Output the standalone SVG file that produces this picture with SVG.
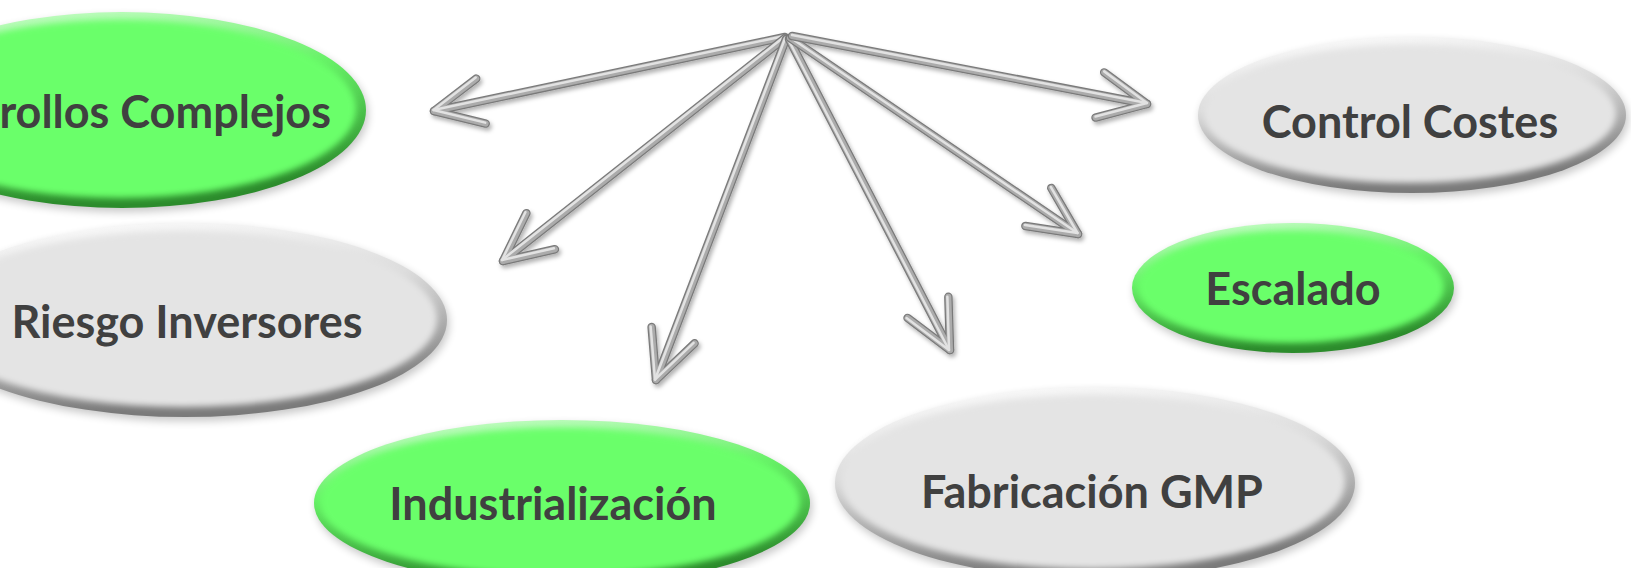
<svg xmlns="http://www.w3.org/2000/svg" width="1631" height="568" viewBox="0 0 1631 568">
<style>
  .lbl { font-family: Lato, "Open Sans", "Liberation Sans", sans-serif; font-weight: 700; font-size: 45px; fill: #404040; }
  .shadow { fill: #000; opacity: 0.22; filter: url(#blur4); }
  .rim-gray { fill: url(#gRimGray); }
  .rim-green { fill: url(#gRimGreen); }
  .in-gray { fill: #e4e4e4; filter: url(#blur3); }
  .in-green { fill: #6bff6b; filter: url(#blur3); }
  .s-dark { fill: none; stroke: #7a7a7a; stroke-width: 8.5; stroke-linecap: round; stroke-linejoin: round; marker-end: url(#mDark); }
  .s-mid { fill: none; stroke: #ababab; stroke-width: 6; stroke-linecap: round; stroke-linejoin: round; marker-end: url(#mMid); }
  .s-hi { fill: none; stroke: #e2e2e2; stroke-width: 2.5; stroke-linecap: round; stroke-linejoin: round; marker-end: url(#mHi); }
</style>
<defs>
  <linearGradient id="gRimGray" x1="0" y1="0" x2="0.25" y2="1">
    <stop offset="0" stop-color="#ffffff"/>
    <stop offset="0.45" stop-color="#dcdcdc"/>
    <stop offset="1" stop-color="#7a7a7a"/>
  </linearGradient>
  <linearGradient id="gRimGreen" x1="0" y1="0" x2="0.25" y2="1">
    <stop offset="0" stop-color="#d4ffd4"/>
    <stop offset="0.45" stop-color="#66f066"/>
    <stop offset="1" stop-color="#2c8c2c"/>
  </linearGradient>
  <filter id="blur3" x="-5%" y="-10%" width="110%" height="120%">
    <feGaussianBlur stdDeviation="3"/>
  </filter>
  <filter id="blur4" x="-10%" y="-20%" width="120%" height="140%">
    <feGaussianBlur stdDeviation="4"/>
  </filter>
  <filter id="arrowShadow" x="-10%" y="-10%" width="120%" height="130%">
    <feDropShadow dx="2" dy="3" stdDeviation="2" flood-color="#000" flood-opacity="0.3"/>
  </filter>
  <marker id="mDark" markerUnits="userSpaceOnUse" markerWidth="70" markerHeight="70" refX="60" refY="35" orient="auto" overflow="visible">
    <path d="M12 12 L60 35 L12 58" fill="none" stroke="#7a7a7a" stroke-width="8.5" stroke-linecap="round" stroke-linejoin="round"/>
  </marker>
  <marker id="mMid" markerUnits="userSpaceOnUse" markerWidth="70" markerHeight="70" refX="60" refY="35" orient="auto" overflow="visible">
    <path d="M12 12 L60 35 L12 58" fill="none" stroke="#ababab" stroke-width="6" stroke-linecap="round" stroke-linejoin="round"/>
  </marker>
  <marker id="mHi" markerUnits="userSpaceOnUse" markerWidth="70" markerHeight="70" refX="60" refY="35" orient="auto" overflow="visible">
    <path d="M12 12 L60 35 L12 58" fill="none" stroke="#e2e2e2" stroke-width="2.5" stroke-linecap="round" stroke-linejoin="round"/>
  </marker>
</defs>

<rect x="0" y="0" width="1631" height="568" fill="#ffffff"/>

<g id="node-desarrollos">
  <ellipse class="shadow" cx="124" cy="114" rx="244" ry="98"/>
  <ellipse class="rim-green" cx="122" cy="110" rx="244" ry="98"/>
  <ellipse class="in-green" cx="120" cy="109" rx="236" ry="89"/>
  <text class="lbl" x="331" y="128" text-anchor="end">Desarrollos Complejos</text>
</g>

<g id="node-riesgo">
  <ellipse class="shadow" cx="187" cy="324" rx="262" ry="97"/>
  <ellipse class="rim-gray" cx="185" cy="320" rx="262" ry="97"/>
  <ellipse class="in-gray" cx="183" cy="319" rx="254" ry="88"/>
  <text class="lbl" x="187" y="338" text-anchor="middle">Riesgo Inversores</text>
</g>

<g id="node-control">
  <ellipse class="shadow" cx="1414" cy="119" rx="214" ry="78"/>
  <ellipse class="rim-gray" cx="1412" cy="115" rx="214" ry="78"/>
  <ellipse class="in-gray" cx="1410" cy="114" rx="206" ry="69"/>
  <text class="lbl" x="1410" y="138" text-anchor="middle">Control Costes</text>
</g>

<g id="node-escalado">
  <ellipse class="shadow" cx="1295" cy="292" rx="161" ry="65"/>
  <ellipse class="rim-green" cx="1293" cy="288" rx="161" ry="65"/>
  <ellipse class="in-green" cx="1291" cy="287" rx="153" ry="56"/>
  <text class="lbl" x="1293" y="305" text-anchor="middle">Escalado</text>
</g>

<g id="node-industrializacion">
  <ellipse class="shadow" cx="564" cy="507" rx="248" ry="83"/>
  <ellipse class="rim-green" cx="562" cy="503" rx="248" ry="83"/>
  <ellipse class="in-green" cx="560" cy="502" rx="240" ry="74"/>
  <text class="lbl" x="553" y="520" text-anchor="middle">Industrialización</text>
</g>

<g id="node-fabricacion">
  <ellipse class="shadow" cx="1097" cy="487" rx="260" ry="96"/>
  <ellipse class="rim-gray" cx="1095" cy="483" rx="260" ry="96"/>
  <ellipse class="in-gray" cx="1093" cy="482" rx="252" ry="87"/>
  <text class="lbl" x="1092" y="508" text-anchor="middle">Fabricación GMP</text>
</g>

<g id="connectors" filter="url(#arrowShadow)">
  <g id="edge-desarrollos">
    <path class="s-dark" d="M785 37 L434 111"/>
    <path class="s-mid" d="M785 37 L434 111"/>
    <path class="s-hi" d="M785 37 L434 111" transform="translate(-0.5,-1)"/>
  </g>
  <g id="edge-riesgo">
    <path class="s-dark" d="M785 38 L503 261"/>
    <path class="s-mid" d="M785 38 L503 261"/>
    <path class="s-hi" d="M785 38 L503 261" transform="translate(-1,-1)"/>
  </g>
  <g id="edge-industrializacion">
    <path class="s-dark" d="M786 39 L656 380"/>
    <path class="s-mid" d="M786 39 L656 380"/>
    <path class="s-hi" d="M786 39 L656 380" transform="translate(-1,-0.5)"/>
  </g>
  <g id="edge-fabricacion">
    <path class="s-dark" d="M789 39 L950 350"/>
    <path class="s-mid" d="M789 39 L950 350"/>
    <path class="s-hi" d="M789 39 L950 350" transform="translate(-1,0)"/>
  </g>
  <g id="edge-escalado">
    <path class="s-dark" d="M790 38 L1078 234"/>
    <path class="s-mid" d="M790 38 L1078 234"/>
    <path class="s-hi" d="M790 38 L1078 234" transform="translate(-0.5,-1)"/>
  </g>
  <g id="edge-control">
    <path class="s-dark" d="M792 36 L1147 104"/>
    <path class="s-mid" d="M792 36 L1147 104"/>
    <path class="s-hi" d="M792 36 L1147 104" transform="translate(0,-1)"/>
  </g>
</g>
</svg>
